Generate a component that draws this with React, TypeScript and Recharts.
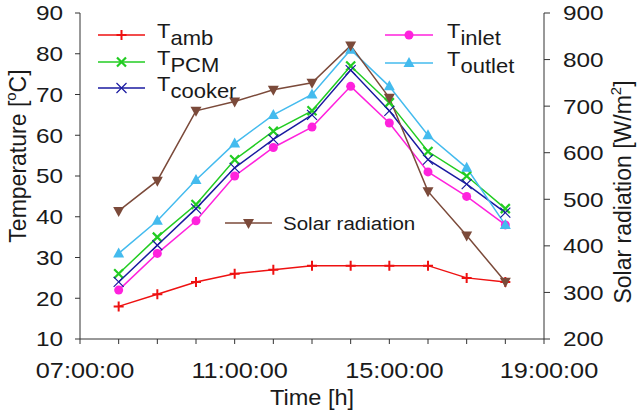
import React from "react";
import { LineChart, Line, XAxis, YAxis, Legend } from "recharts";

// hourly readings, 08:00 to 18:00
const hours = [8, 9, 10, 11, 12, 13, 14, 15, 16, 17, 18];
const tAmb = [18, 21, 24, 26, 27, 28, 28, 28, 28, 25, 24];
const tPcm = [26, 35, 43, 54, 61, 66, 77, 68, 56, 50, 42];
const tCooker = [24, 33, 42, 52, 59, 65, 76, 66, 54, 48, 41];
const tInlet = [22, 31, 39, 50, 57, 62, 72, 63, 51, 45, 38];
const tOutlet = [31, 39, 49, 58, 65, 70, 81, 72, 60, 52, 38];
const solar = [475, 540, 690, 710, 735, 750, 830, 718, 517, 422, 323];

const hourTicks = [7, 8, 9, 10, 11, 12, 13, 14, 15, 16, 17, 18, 19];
const labelledHours = [7, 11, 15, 19];
const tempTicks = [10, 20, 30, 40, 50, 60, 70, 80, 90];
const solarTicks = [200, 300, 400, 500, 600, 700, 800, 900];

const data = hours.map((h, i) => ({
  hour: h,
  tAmb: tAmb[i],
  tPcm: tPcm[i],
  tCooker: tCooker[i],
  tInlet: tInlet[i],
  tOutlet: tOutlet[i],
  solar: solar[i],
}));

const FONT = "'Liberation Sans', Arial, sans-serif";
const INK = "#1a1a1a";
const AXIS = "#333333";

type Shape = "plus" | "xThick" | "xThin" | "circle" | "triUp" | "triDown";

const series: {
  key: string;
  main: string;
  sub?: string;
  color: string;
  shape: Shape;
  axis: string;
}[] = [
  { key: "tAmb", main: "T", sub: "amb", color: "#ee1111", shape: "plus", axis: "t" },
  { key: "tPcm", main: "T", sub: "PCM", color: "#22cc22", shape: "xThick", axis: "t" },
  { key: "tCooker", main: "T", sub: "cooker", color: "#1a1aa0", shape: "xThin", axis: "t" },
  { key: "tInlet", main: "T", sub: "inlet", color: "#ff22dd", shape: "circle", axis: "t" },
  { key: "tOutlet", main: "T", sub: "outlet", color: "#44bbee", shape: "triUp", axis: "t" },
  { key: "solar", main: "Solar radiation", color: "#7b4a3a", shape: "triDown", axis: "s" },
];

// where each legend entry sits (line start, line end, row y, text x)
const legendSpots: Record<string, { x1: number; x2: number; y: number; tx: number }> = {
  tAmb: { x1: 98, x2: 145, y: 35, tx: 157 },
  tPcm: { x1: 98, x2: 145, y: 62, tx: 157 },
  tCooker: { x1: 98, x2: 145, y: 88, tx: 157 },
  tInlet: { x1: 385, x2: 433, y: 35, tx: 447 },
  tOutlet: { x1: 385, x2: 433, y: 63, tx: 447 },
  solar: { x1: 225, x2: 272, y: 223, tx: 283 },
};

// the source figure's lettering is a bit wider than it is tall
function SText(props: {
  x: number;
  y: number;
  sx: number;
  size: number;
  anchor?: "start" | "middle" | "end";
  dy?: string | number;
  children: React.ReactNode;
}) {
  const { x, y, sx, size, anchor = "start", dy, children } = props;
  return (
    <g transform={`translate(${x},${y}) scale(${sx},1)`}>
      <text x={0} y={0} dy={dy} textAnchor={anchor} fontSize={size} fill={INK} fontFamily={FONT}>
        {children}
      </text>
    </g>
  );
}

function Marker({ shape, cx, cy, color }: { shape: Shape; cx: number; cy: number; color: string }) {
  if (cx == null || cy == null) return null;
  switch (shape) {
    case "plus":
      return (
        <path d={`M${cx - 5},${cy}H${cx + 5}M${cx},${cy - 5}V${cy + 5}`} stroke={color} strokeWidth={2} />
      );
    case "xThick":
      return (
        <path
          d={`M${cx - 4.5},${cy - 4.5}L${cx + 4.5},${cy + 4.5}M${cx - 4.5},${cy + 4.5}L${cx + 4.5},${cy - 4.5}`}
          stroke={color}
          strokeWidth={2.2}
        />
      );
    case "xThin":
      return (
        <path
          d={`M${cx - 5},${cy - 5}L${cx + 5},${cy + 5}M${cx - 5},${cy + 5}L${cx + 5},${cy - 5}`}
          stroke={color}
          strokeWidth={1.2}
        />
      );
    case "circle":
      return <circle cx={cx} cy={cy} r={4.5} fill={color} />;
    case "triUp":
      return (
        <polygon points={`${cx},${cy - 6} ${cx + 5.5},${cy + 4} ${cx - 5.5},${cy + 4}`} fill={color} />
      );
    case "triDown":
      return (
        <polygon points={`${cx},${cy + 6} ${cx + 5.5},${cy - 4} ${cx - 5.5},${cy - 4}`} fill={color} />
      );
  }
  return null;
}

function HourTick(props: any) {
  const { x, y, payload } = props;
  if (!labelledHours.includes(payload.value)) return null;
  const hh = String(payload.value).padStart(2, "0");
  return (
    <SText x={x + 5} y={y} sx={1.15} size={22} anchor="middle" dy="0.71em">
      {`${hh}:00:00`}
    </SText>
  );
}

function ValueTick(props: any) {
  const { x, y, payload, textAnchor } = props;
  return (
    <SText x={x} y={y} sx={1.16} size={21} anchor={textAnchor} dy="0.355em">
      {payload.value}
    </SText>
  );
}

function LegendBox(props: any) {
  const payload: any[] = props.payload || [];
  return (
    <svg width={640} height={413} style={{ overflow: "visible" }}>
      {payload.map((item) => {
        const s = series.find((d) => d.key === item.dataKey);
        const spot = legendSpots[item.dataKey];
        if (!s || !spot) return null;
        return (
          <g key={s.key}>
            <line x1={spot.x1} x2={spot.x2} y1={spot.y} y2={spot.y} stroke={s.color} strokeWidth={1.5} />
            <Marker shape={s.shape} cx={(spot.x1 + spot.x2) / 2} cy={spot.y} color={s.color} />
            {s.sub ? (
              <SText x={spot.tx} y={spot.y + 3} sx={1.1} size={20}>
                {s.main}
                <tspan dy={7}>{s.sub}</tspan>
              </SText>
            ) : (
              <SText x={spot.tx} y={spot.y + 7} sx={1.08} size={19}>
                {s.main}
              </SText>
            )}
          </g>
        );
      })}
    </svg>
  );
}

function LeftTitle(props: any) {
  const vb = props.viewBox;
  const cx = vb.x + 18;
  const cy = vb.y + vb.height / 2 - 20;
  return (
    <text
      x={cx}
      y={cy}
      transform={`rotate(-90, ${cx}, ${cy})`}
      textAnchor="middle"
      dominantBaseline="central"
      fontSize={23}
      fill={INK}
      fontFamily={FONT}
    >
      Temperature [<tspan dy={-8} fontSize={15}>o</tspan>
      <tspan dy={8}>C]</tspan>
    </text>
  );
}

function RightTitle(props: any) {
  const vb = props.viewBox;
  const cx = vb.x + 79;
  const cy = vb.y + vb.height / 2 + 16;
  return (
    <text
      x={cx}
      y={cy}
      transform={`rotate(-90, ${cx}, ${cy})`}
      textAnchor="middle"
      dominantBaseline="central"
      fontSize={23}
      fill={INK}
      fontFamily={FONT}
    >
      Solar radiation [W/m<tspan dy={-8} fontSize={15}>2</tspan>
      <tspan dy={8}>]</tspan>
    </text>
  );
}

function BottomTitle(props: any) {
  const vb = props.viewBox;
  return (
    <SText x={vb.x + vb.width / 2} y={vb.y + 66} sx={1.07} size={22} anchor="middle">
      Time [h]
    </SText>
  );
}

export default function App() {
  return (
    <div style={{ position: "absolute", left: 0, top: 0, background: "#fff" }}>
      <LineChart
        width={640}
        height={413}
        data={data}
        margin={{ top: 13, right: 0, bottom: 0, left: 0 }}
        style={{ fontFamily: FONT }}
      >
        <XAxis
          dataKey="hour"
          type="number"
          domain={[7, 19]}
          ticks={hourTicks}
          interval={0}
          height={74}
          tickSize={5}
          tickMargin={18}
          tick={<HourTick />}
          axisLine={{ stroke: AXIS }}
          tickLine={{ stroke: AXIS }}
          label={<BottomTitle />}
        />
        <XAxis
          xAxisId="top"
          orientation="top"
          type="number"
          domain={[7, 19]}
          height={0}
          tick={false}
          tickLine={false}
          axisLine={{ stroke: AXIS }}
        />
        <YAxis
          yAxisId="t"
          domain={[10, 90]}
          ticks={tempTicks}
          interval={0}
          width={80}
          tickSize={5}
          tickMargin={12}
          tick={<ValueTick />}
          axisLine={{ stroke: AXIS }}
          tickLine={{ stroke: AXIS }}
          label={<LeftTitle />}
        />
        <YAxis
          yAxisId="s"
          orientation="right"
          domain={[200, 900]}
          ticks={solarTicks}
          interval={0}
          width={96}
          tickSize={6}
          tickMargin={13}
          tick={<ValueTick />}
          axisLine={{ stroke: AXIS }}
          tickLine={{ stroke: AXIS }}
          label={<RightTitle />}
        />
        <Legend
          verticalAlign="middle"
          content={<LegendBox />}
          wrapperStyle={{ left: 0, top: 0, width: 640, height: 413, pointerEvents: "none" }}
        />
        {series.map((s) => (
          <Line
            key={s.key}
            yAxisId={s.axis}
            dataKey={s.key}
            name={s.key}
            type="linear"
            stroke={s.color}
            strokeWidth={1.5}
            isAnimationActive={false}
            activeDot={false}
            dot={(p: any) => (
              <Marker key={`${s.key}-${p.index}`} shape={s.shape} cx={p.cx} cy={p.cy} color={s.color} />
            )}
          />
        ))}
      </LineChart>
    </div>
  );
}
